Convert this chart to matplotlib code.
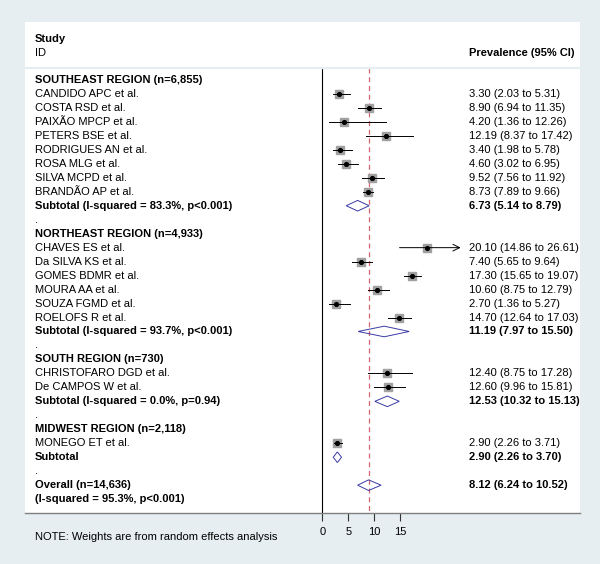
import numpy as np
import matplotlib.pyplot as plt
from matplotlib.patches import Polygon

plt.rcParams.update({
    'font.family': ['Liberation Sans', 'DejaVu Sans'],
    'font.size': 8,
})

# ---------------------------------------------------------------------------
# Data
# ---------------------------------------------------------------------------
regions = ['SOUTHEAST REGION (n=6,855)', 'NORTHEAST REGION (n=4,933)',
           'SOUTH REGION (n=730)', 'MIDWEST REGION (n=2,118)']

studies = [
    ['CANDIDO APC et al.', 'COSTA RSD et al.', 'PAIXÃO MPCP et al.',
     'PETERS BSE et al.', 'RODRIGUES AN et al.', 'ROSA MLG et al.',
     'SILVA MCPD et al.', 'BRANDÃO AP et al.'],
    ['CHAVES ES et al.', 'Da SILVA KS et al.', 'GOMES BDMR et al.',
     'MOURA AA et al.', 'SOUZA FGMD et al.', 'ROELOFS R et al.'],
    ['CHRISTOFARO DGD et al.', 'De CAMPOS W et al.'],
    ['MONEGO ET et al.'],
]
est = [[3.30, 8.90, 4.20, 12.19, 3.40, 4.60, 9.52, 8.73],
       [20.10, 7.40, 17.30, 10.60, 2.70, 14.70],
       [12.40, 12.60],
       [2.90]]
lo = [[2.03, 6.94, 1.36, 8.37, 1.98, 3.02, 7.56, 7.89],
      [14.86, 5.65, 15.65, 8.75, 1.36, 12.64],
      [8.75, 9.96],
      [2.26]]
hi = [[5.31, 11.35, 12.26, 17.42, 5.78, 6.95, 11.92, 9.66],
      [26.61, 9.64, 19.07, 12.79, 5.27, 17.03],
      [17.28, 15.81],
      [3.71]]

subtotal_text = ['Subtotal (I-squared = 83.3%, p<0.001)',
                 'Subtotal (I-squared = 93.7%, p<0.001)',
                 'Subtotal (I-squared = 0.0%, p=0.94)',
                 'Subtotal']
sub_est = [6.73, 11.19, 12.53, 2.90]
sub_lo = [5.14, 7.97, 10.32, 2.26]
sub_hi = [8.79, 15.50, 15.13, 3.70]
# diamonds as they are drawn in the figure
sub_draw = [(4.6, 6.8, 9.0), (6.9, 11.9, 16.7), (10.1, 12.5, 14.8), (2.1, 2.9, 3.7)]

overall_text = ['Overall (n=14,636)', '(I-squared = 95.3%, p<0.001)']
overall_est, overall_lo, overall_hi = 8.12, 6.24, 10.52
overall_draw = (6.8, 8.9, 11.3)

xticks = [0, 5, 10, 15]

# ---------------------------------------------------------------------------
BG = '#e6eef2'
BOX = '#a0a0a0'
DIA = '#3a3aa6'
REF = '#d0666f'

fig = plt.figure(figsize=(6, 5.64), dpi=100, facecolor=BG)
ax = fig.add_axes([25 / 600, (564 - 512.7) / 564, 555 / 600, (512.7 - 22) / 564])
ax.set_facecolor('white')

px = 5.2  # pixels per unit on the x scale
ax.set_xlim((25 - 322.3) / px, (580 - 322.3) / px)
ax.set_ylim(30.97, -4.15)

xl = ax.get_yaxis_transform()
lx, rx = 0.018, 0.8005
top = -0.84

# header
ax.text(lx, -2.93, 'Study', transform=xl, va='center', fontweight='bold')
ax.text(lx, -1.93, 'ID', transform=xl, va='center')
ax.text(rx, -1.93, 'Prevalence (95% CI)', transform=xl, va='center', fontweight='bold')
ax.axhline(top, color=BG, lw=1.6)


def diamond(a, c, b, y, h=0.38):
    ax.add_patch(Polygon([(a, y), (c, y - h), (b, y), (c, y + h)], closed=True,
                         fill=False, edgecolor=DIA, lw=0.7, zorder=4))


row = 0
for g in range(len(regions)):
    ax.text(lx, row, regions[g], transform=xl, va='center', fontweight='bold')
    row += 1
    for name, e, l, h in zip(studies[g], est[g], lo[g], hi[g]):
        ax.text(lx, row, name, transform=xl, va='center')
        ax.text(rx, row, f'{e:.2f} ({l:.2f} to {h:.2f})', transform=xl, va='center')
        if h > 25:
            ax.annotate('', xy=(h, row), xytext=(l, row),
                        arrowprops=dict(arrowstyle='->,head_length=0.6,head_width=0.3',
                                        lw=0.7, color='black', shrinkA=0, shrinkB=0))
        else:
            ax.plot([l, h], [row, row], color='black', lw=0.7, zorder=3)
        ax.plot(e, row, marker='s', ms=5.4, color=BOX, mec=BOX, zorder=2)
        ax.plot(e, row, marker='o', ms=2.7, color='black', zorder=4)
        row += 1
    ax.text(lx, row, subtotal_text[g], transform=xl, va='center', fontweight='bold')
    ax.text(rx, row, f'{sub_est[g]:.2f} ({sub_lo[g]:.2f} to {sub_hi[g]:.2f})',
            transform=xl, va='center', fontweight='bold')
    diamond(*sub_draw[g], row)
    row += 1
    ax.text(lx, row, '.', transform=xl, va='center')
    row += 1

ax.text(lx, row, overall_text[0], transform=xl, va='center', fontweight='bold')
ax.text(rx, row, f'{overall_est:.2f} ({overall_lo:.2f} to {overall_hi:.2f})',
        transform=xl, va='center', fontweight='bold')
diamond(*overall_draw, row)
ax.text(lx, row + 1, overall_text[1], transform=xl, va='center', fontweight='bold')

# reference lines
ax.plot([0, 0], [top, 30.97], color='black', lw=0.8, zorder=1)
ax.plot([overall_draw[1]] * 2, [top, 30.97], color=REF, lw=0.9,
        dashes=(4, 3), zorder=1)

for s in ['top', 'left', 'right']:
    ax.spines[s].set_visible(False)
ax.spines['bottom'].set_color('#7f7f7f')
ax.spines['bottom'].set_linewidth(1.0)
ax.set_xticks(xticks)
ax.set_xticklabels([str(t) for t in xticks])
ax.tick_params(axis='x', length=5.5, width=0.8, color='#333333', pad=5, labelsize=8)
ax.set_yticks([])

fig.text(35 / 600, 1 - 537.3 / 564, 'NOTE: Weights are from random effects analysis',
         va='center', fontsize=8)

fig.savefig('out.png', dpi=100, facecolor=BG)
